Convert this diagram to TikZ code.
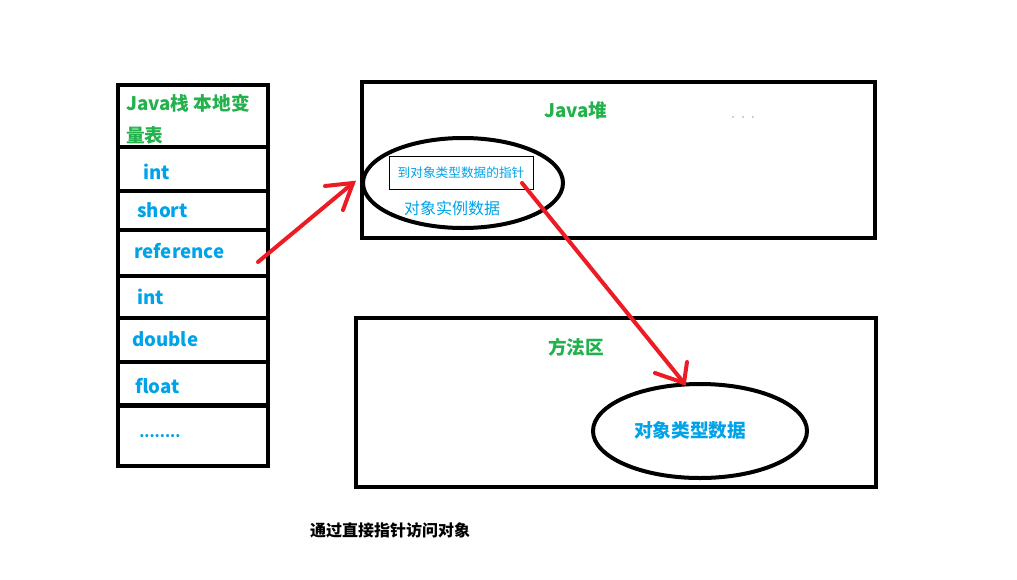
\documentclass[tikz,border=0pt]{standalone}
\usepackage{fontspec}
\setmainfont{Noto Sans CJK SC}
\usetikzlibrary{shapes.geometric}
\definecolor{pgreen}{RGB}{34,177,76}
\definecolor{pblue}{RGB}{0,162,232}
\definecolor{pred}{RGB}{237,28,36}
\tikzset{
  cell/.style={draw=black, line width=3pt, rectangle, inner sep=0pt},
  area/.style={draw=black, line width=3pt, rectangle, inner sep=0pt},
  oval/.style={draw=black, line width=3pt, ellipse, inner sep=0pt},
  gtitle/.style={text=pgreen, font=\fontsize{14pt}{17pt}\selectfont\bfseries, inner sep=0pt},
  btext/.style={text=pblue, font=\fontsize{14pt}{17pt}\selectfont\bfseries, inner sep=0pt, anchor=west},
  redline/.style={draw=pred, line width=3pt, line cap=round},
}
\begin{document}
\begin{tikzpicture}[x=0.75pt,y=-0.75pt]
\useasboundingbox (0,0) rectangle (1017,579);
% stack cells
\node[cell, minimum width=150*0.75pt, minimum height=62*0.75pt] (c0) at (193,116) {};
\node[cell, minimum width=150*0.75pt, minimum height=44*0.75pt] (c1) at (193,169) {};
\node[cell, minimum width=150*0.75pt, minimum height=39*0.75pt] (c2) at (193,210.5) {};
\node[cell, minimum width=150*0.75pt, minimum height=46*0.75pt] (c3) at (193,253) {};
\node[cell, minimum width=150*0.75pt, minimum height=42*0.75pt] (c4) at (193,297) {};
\node[cell, minimum width=150*0.75pt, minimum height=44*0.75pt] (c5) at (193,340) {};
\node[cell, minimum width=150*0.75pt, minimum height=43*0.75pt] (c6) at (193,383.5) {};
\node[cell, minimum width=150*0.75pt, minimum height=60*0.75pt] (c7) at (193,435.5) {};
\node[gtitle, anchor=west] (t0a) at (126,103) {Java栈 本地变};
\node[gtitle, anchor=west] (t0b) at (126,135) {量表};
\node[btext] (t1) at (143,172) {int};
\node[btext] (t2) at (137,210) {short};
\node[btext] (t3) at (134,251) {reference};
\node[btext] (t4) at (137,297) {int};
\node[btext] (t5) at (132,339) {double};
\node[btext] (t6) at (135,386) {float};
\node[btext, font=\fontsize{11pt}{13pt}\selectfont\bfseries] (t7) at (139,436) {........};
% heap
\node[area, minimum width=513*0.75pt, minimum height=156*0.75pt] (heap) at (618.5,160) {};
\node[gtitle] (heapt) at (576,110) {Java堆};
\node[text=gray!70, font=\fontsize{6pt}{7pt}\selectfont, inner sep=0pt] (dots) at (743,119) {·\ ·\ ·};
\node[oval, minimum width=200*0.75pt, minimum height=90*0.75pt] (obj) at (463,183) {};
\node[draw=black, line width=0.6pt, rectangle, minimum width=144*0.75pt, minimum height=33*0.75pt, inner sep=0pt,
      text=pblue, font=\fontsize{9.5pt}{11pt}\selectfont] (ptr) at (461,172.5) {到对象类型数据的指针};
\node[text=pblue, font=\fontsize{12pt}{14pt}\selectfont, inner sep=0pt] (inst) at (452,208) {对象实例数据};
% method area
\node[area, minimum width=520*0.75pt, minimum height=169*0.75pt] (meth) at (616,402.5) {};
\node[gtitle] (metht) at (576,347) {方法区};
\node[oval, minimum width=214*0.75pt, minimum height=94*0.75pt] (type) at (700,431) {};
\node[text=pblue, font=\fontsize{14pt}{17pt}\selectfont\bfseries, inner sep=0pt] (typet) at (690,430) {对象类型数据};
% caption
\node[font=\fontsize{12pt}{14pt}\selectfont\bfseries, inner sep=0pt] (cap) at (390,530) {通过直接指针访问对象};
% arrows
\coordinate (a1s) at (258,262);
\coordinate (a1t) at (353,183);
\coordinate (a1l) at (325,186);
\coordinate (a1r) at (343,210);
\draw[redline] (a1s) -- (a1t);
\draw[redline] (a1l) -- (a1t) -- (a1r);
\coordinate (a2s) at (522,183);
\coordinate (a2t) at (684,383);
\coordinate (a2l) at (655,373);
\coordinate (a2r) at (687,362);
\draw[redline] (a2s) -- (a2t);
\draw[redline] (a2l) -- (a2t) -- (a2r);
\end{tikzpicture}
\end{document}
